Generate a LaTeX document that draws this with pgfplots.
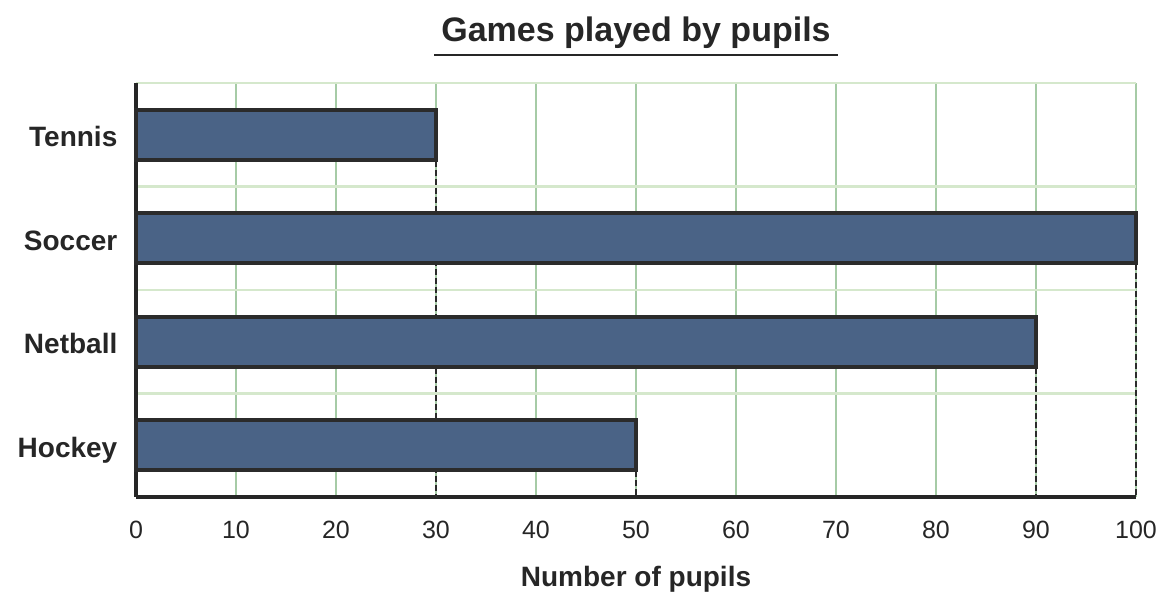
\documentclass[border=0pt]{standalone}
\usepackage{pgfplots}
\pgfplotsset{compat=1.18}
\usepackage{fontspec}
\setmainfont{Liberation Sans}
\definecolor{barfill}{HTML}{4A6386}
\definecolor{barborder}{HTML}{2B2B2B}
\definecolor{gridv}{HTML}{A6CBA6}
\definecolor{gridh}{HTML}{D5E8CC}
\definecolor{txt}{HTML}{262626}
\begin{document}
\begin{tikzpicture}
\useasboundingbox (-68pt,-57pt) rectangle (519.5pt,248.5pt);
\begin{axis}[
  at={(0,0)}, anchor=south west,
  scale only axis, width=500pt, height=207pt,
  xmin=0, xmax=100, ymin=-0.5, ymax=3.5,
  clip=false,
  xtick={0,10,...,100},
  ytick={0,1,2,3}, yticklabels={Hockey,Netball,Soccer,Tennis},
  minor ytick={0.5,1.5,2.5,3.5},
  xmajorgrids, yminorgrids,
  major x grid style={color=gridv, line width=1.1pt},
  minor y grid style={color=gridh, line width=1.1pt},
  major tick length=0pt, minor tick length=0pt,
  axis x line*=bottom, axis y line*=left,
  axis line style={line width=1.8pt, color=txt, -},
  /pgf/number format/assume math mode=true,
  xticklabel style={anchor=base, yshift=-21pt, font=\fontsize{12.5}{15}\selectfont, text=txt},
  yticklabel style={anchor=base east, xshift=-5.8pt, yshift=-6pt, font=\bfseries\fontsize{14}{16}\selectfont, text=txt},
  xlabel={Number of pupils},
  every axis x label/.style={at={(axis description cs:0.5,0)}, anchor=base, yshift=-45pt, font=\bfseries\fontsize{14}{16}\selectfont, text=txt},
]
\addplot[forget plot, color=barborder, line width=1.1pt, dash pattern=on 3pt off 1.5pt] coordinates {(30,2.75) (30,-0.5)};
\addplot[forget plot, color=barborder, line width=1.1pt, dash pattern=on 3pt off 1.5pt] coordinates {(100,1.75) (100,-0.5)};
\addplot[forget plot, color=barborder, line width=1.1pt, dash pattern=on 3pt off 1.5pt] coordinates {(90,0.75) (90,-0.5)};
\addplot[forget plot, color=barborder, line width=1.1pt, dash pattern=on 3pt off 1.5pt] coordinates {(50,-0.25) (50,-0.5)};
\addplot[xbar, bar width=25pt, fill=barfill, draw=barborder, line width=1.8pt]
  coordinates {(50,0) (90,1) (100,2) (30,3)};
\end{axis}
\node[font=\bfseries\fontsize{17}{20}\selectfont, text=txt, anchor=base] at (250pt,227.5pt) {Games played by pupils};
\draw[line width=1.1pt, color=txt] (149pt,221pt) -- (351pt,221pt);
\end{tikzpicture}
\end{document}
